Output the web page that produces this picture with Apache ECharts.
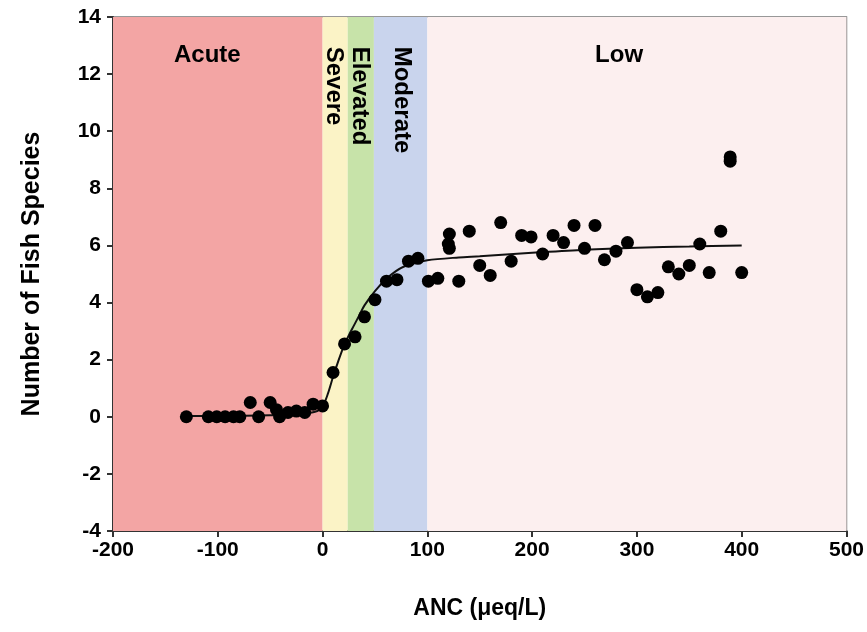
<!DOCTYPE html>
<html>
<head>
<meta charset="utf-8">
<script src="https://cdn.jsdelivr.net/npm/echarts@6/dist/echarts.min.js"></script>
<style>html,body{margin:0;padding:0;background:#fff}#c{width:867px;height:632px}</style>
</head>
<body>
<div id="c"></div>
<script>
// ---- data ----
const xTicks = [-200, -100, 0, 100, 200, 300, 400, 500];
const yTicks = [-4, -2, 0, 2, 4, 6, 8, 10, 12, 14];

const zoneNames = ['Acute', 'Severe', 'Elevated', 'Moderate', 'Low'];
const zoneStart = [-200, 0, 24, 49, 100];
const zoneEnd = [0, 24, 49, 100, 500];

const anc = [-130, -109, -101, -93, -85, -79, -69, -61, -50, -44, -41, -33, -25, -17, -9, 0,
  10, 21, 31, 40, 50, 61, 71, 82, 91, 101, 110, 120, 121, 121, 130, 140, 150, 160, 170, 180,
  190, 199, 210, 220, 230, 240, 250, 260, 269, 280, 291, 300, 310, 320, 330, 340, 350, 360,
  369, 380, 389, 389, 400];
const species = [0, 0, 0, 0, 0, 0, 0.5, 0, 0.5, 0.25, 0, 0.15, 0.2, 0.15, 0.44, 0.38,
  1.55, 2.55, 2.8, 3.5, 4.1, 4.75, 4.8, 5.45, 5.55, 4.75, 4.85, 6.05, 6.4, 5.9, 4.75, 6.5, 5.3, 4.95, 6.8, 5.45,
  6.35, 6.3, 5.7, 6.35, 6.1, 6.7, 5.9, 6.7, 5.5, 5.8, 6.1, 4.45, 4.2, 4.35, 5.25, 5.0, 5.3, 6.05,
  5.05, 6.5, 8.95, 9.1, 5.05];

const fitX = [-130, -100, -50, -20, -5, 0, 5, 10, 15, 20, 25, 30, 35, 40, 50, 60, 70, 80, 100, 130, 150, 200, 250, 300, 350, 400];
const fitY = [0.03, 0.03, 0.05, 0.1, 0.2, 0.35, 0.8, 1.4, 1.95, 2.45, 2.85, 3.2, 3.55, 3.9, 4.4, 4.8, 5.1, 5.3, 5.48, 5.58, 5.62, 5.74, 5.85, 5.92, 5.96, 6.0];

// ---- chart ----
const zoneColors = ['#f3a5a4', '#fbf3c6', '#c7e3a9', '#c9d4ed', '#fcefef'];
const font = 'Liberation Sans, Arial, sans-serif';

const chart = echarts.init(document.getElementById('c'));

const labelSpecs = [
  {name: zoneNames[0], x: -110, y: 12.66, rotate: 0},
  {name: zoneNames[1], x: 10.5, y: 12.96, rotate: -90},
  {name: zoneNames[2], x: 35, y: 12.96, rotate: -90},
  {name: zoneNames[3], x: 75, y: 12.96, rotate: -90},
  {name: zoneNames[4], x: 283, y: 12.66, rotate: 0}
];

chart.setOption({
  animation: false,
  grid: {left: 113, right: 20, top: 17, bottom: 101, show: true, borderColor: '#777', borderWidth: 1.5, backgroundColor: 'transparent'},
  xAxis: {
    type: 'value', min: xTicks[0], max: xTicks[xTicks.length - 1], interval: 100,
    name: 'ANC (\u03bceq/L)', nameLocation: 'middle', nameGap: 66,
    nameTextStyle: {fontFamily: font, fontWeight: 'bold', fontSize: 23, color: '#000'},
    axisLine: {onZero: false, lineStyle: {color: '#333', width: 2}},
    axisTick: {length: 6, lineStyle: {color: '#333', width: 2}},
    axisLabel: {fontFamily: font, fontWeight: 'bold', fontSize: 21, color: '#000', margin: 9},
    splitLine: {show: false}
  },
  yAxis: {
    type: 'value', min: yTicks[0], max: yTicks[yTicks.length - 1], interval: 2,
    name: 'Number of Fish Species', nameLocation: 'middle', nameGap: 68,
    nameTextStyle: {fontFamily: font, fontWeight: 'bold', fontSize: 25, color: '#000'},
    axisLine: {onZero: false, lineStyle: {color: '#333', width: 2}},
    axisTick: {length: 6, lineStyle: {color: '#333', width: 2}},
    axisLabel: {fontFamily: font, fontWeight: 'bold', fontSize: 21, color: '#000', margin: 12},
    splitLine: {show: false}
  },
  series: [
    {
      type: 'line', data: [], silent: true, z: 1,
      markArea: {
        silent: true,
        data: zoneNames.map((n, i) => [
          {xAxis: zoneStart[i], itemStyle: {color: zoneColors[i], opacity: 1}},
          {xAxis: zoneEnd[i]}
        ])
      }
    },
    {
      type: 'line', data: fitX.map((x, i) => [x, fitY[i]]), smooth: 0.3, showSymbol: false,
      lineStyle: {color: '#111', width: 2}, z: 3
    },
    {
      type: 'scatter', data: anc.map((x, i) => [x, species[i]]), symbolSize: 13,
      itemStyle: {color: '#000', opacity: 1}, z: 4
    },
    {
      type: 'scatter', symbolSize: 0, silent: true, z: 5,
      itemStyle: {opacity: 1},
      data: labelSpecs.map(s => ({
        value: [s.x, s.y],
        label: {
          show: true, formatter: s.name, position: [0, 0], rotate: s.rotate,
          align: s.rotate ? 'left' : 'center', verticalAlign: 'middle',
          fontFamily: font, fontWeight: 'bold', fontSize: 24, color: '#000'
        }
      }))
    }
  ]
});
</script>
</body>
</html>
